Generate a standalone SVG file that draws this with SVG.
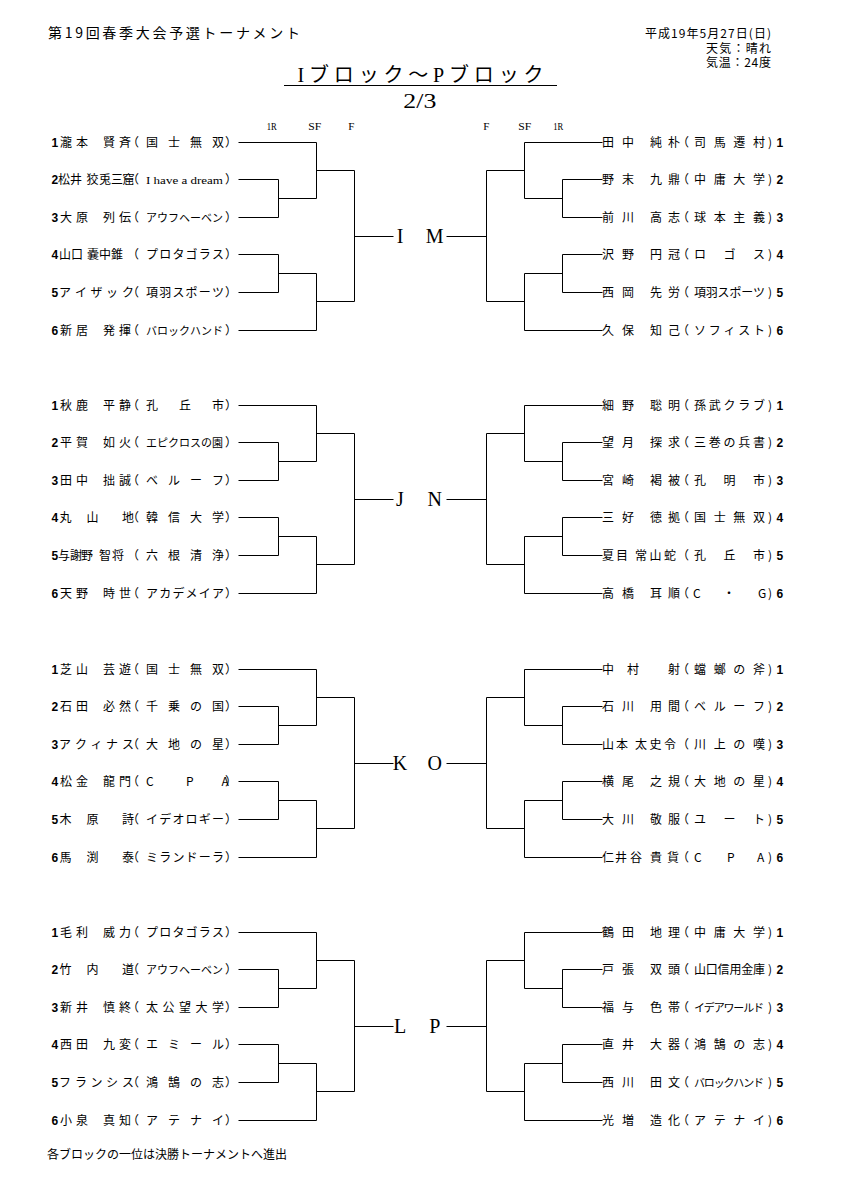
<svg xmlns="http://www.w3.org/2000/svg" width="841" height="1190" viewBox="0 0 841 1190">
<style>
.t{font-family:"Noto Sans CJK JP",sans-serif;font-size:12px;fill:#000}
.s{font-size:11px}
.d{font-family:"Liberation Sans",sans-serif;font-weight:bold;font-size:12px;fill:#000}
.sr{font-family:"Liberation Serif","Noto Sans CJK JP",serif;fill:#000}
.ln{fill:none;stroke:#000;stroke-width:1}
</style>
<defs>
<path id="bl" class="ln" d="M238.5 142.5H316.5V198.5H278.5M238.5 179.5H278.5V217.5H238.5M316.5 170.5H354.5V301.5H316.5M238.5 254.5H278.5V292.5H238.5M278.5 273.5H316.5V330.5H238.5M354.5 236.5H393.5"/>
<path id="br" class="ln" d="M602.5 142.5H524.5V198.5H562.5M602.5 179.5H562.5V217.5H602.5M524.5 170.5H486.5V301.5H524.5M602.5 254.5H562.5V292.5H602.5M562.5 273.5H524.5V330.5H602.5M486.5 236.5H446.5"/>
</defs>
<rect width="841" height="1190" fill="#fff"/>

<g id="header">
<text class="t" x="48" y="38" style="font-size:14px" textLength="252" lengthAdjust="spacing">第19回春季大会予選トーナメント</text>
<text class="t" x="645" y="38" textLength="126" lengthAdjust="spacing">平成19年5月27日(日)</text>
<text class="t" x="706" y="52.5" textLength="65" lengthAdjust="spacing">天気：晴れ</text>
<text class="t" x="706" y="67" textLength="65" lengthAdjust="spacing">気温：24度</text>
<text class="sr" x="297.5" y="81.5" style="font-size:20px" textLength="246" lengthAdjust="spacing">Iブロック〜Pブロック</text>
<line class="ln" x1="284" y1="85.5" x2="557" y2="85.5"/>
<text class="sr" x="403.3" y="108.3" style="font-size:20px" textLength="33" lengthAdjust="spacingAndGlyphs">2/3</text>
<text class="sr" x="266.7" y="130" style="font-size:11px" textLength="10" lengthAdjust="spacingAndGlyphs">1R</text>
<text class="sr" x="308.3" y="130" style="font-size:11px" textLength="13" lengthAdjust="spacingAndGlyphs">SF</text>
<text class="sr" x="348.3" y="130" style="font-size:11px">F</text>
<text class="sr" x="483.3" y="130" style="font-size:11px">F</text>
<text class="sr" x="518.3" y="130" style="font-size:11px" textLength="13" lengthAdjust="spacingAndGlyphs">SF</text>
<text class="sr" x="553.3" y="130" style="font-size:11px" textLength="10" lengthAdjust="spacingAndGlyphs">1R</text>
</g>

<g id="connectors">
<use href="#bl"/><use href="#br"/>
<use href="#bl" transform="translate(0,263)"/><use href="#br" transform="translate(0,263)"/>
<use href="#bl" transform="translate(0,527)"/><use href="#br" transform="translate(0,527)"/>
<use href="#bl" transform="translate(0,790)"/><use href="#br" transform="translate(0,790)"/>
</g>

<g id="blocks">
<g id="IM"><text class="sr" style="font-size:20px" x="400" y="243" text-anchor="middle">I</text><text class="sr" style="font-size:20px" x="434.7" y="243" text-anchor="middle">M</text></g>
<g id="JN"><text class="sr" style="font-size:20px" x="400" y="506" text-anchor="middle">J</text><text class="sr" style="font-size:20px" x="434.7" y="506" text-anchor="middle">N</text></g>
<g id="KO"><text class="sr" style="font-size:20px" x="400" y="770" text-anchor="middle">K</text><text class="sr" style="font-size:20px" x="434.7" y="770" text-anchor="middle">O</text></g>
<g id="LP"><text class="sr" style="font-size:20px" x="400" y="1033" text-anchor="middle">L</text><text class="sr" style="font-size:20px" x="434.7" y="1033" text-anchor="middle">P</text></g>
</g>

<!-- Block I -->
<g id="I1"><text class="d" x="51.5" y="147">1</text><text class="t" x="60 76 103 119 127 146 168 190 212 225" y="147">瀧本賢斉（国士無双）</text></g>
<g id="I2"><text class="d" x="51.5" y="184">2</text><text class="t" x="58 70 86.5 99 111 122.5 127" y="184">松井狡兎三窟（</text><text class="sr" x="146" y="184" style="font-size:11px" textLength="77" lengthAdjust="spacingAndGlyphs">I have a dream</text><text class="t" x="225" y="184">）</text></g>
<g id="I3"><text class="d" x="51.5" y="222">3</text><text class="t" x="60 76 103 119 127" y="222">大原列伝（<tspan class="s" x="146 157 168 179 190 201 212">アウフヘーベン</tspan><tspan x="225">）</tspan></text></g>
<g id="I4"><text class="d" x="51.5" y="259">4</text><text class="t" x="59 71 87 99 111 127 146 159.2 172.4 185.6 198.8 212 225" y="259">山口嚢中錐（プロタゴラス）</text></g>
<g id="I5"><text class="d" x="51.5" y="297">5</text><text class="t" x="59 75 90.5 106 122 127 146 159.2 172.4 185.6 198.8 212 225" y="297">アイザック（項羽スポーツ）</text></g>
<g id="I6"><text class="d" x="51.5" y="335">6</text><text class="t" x="60 76 103 119 127" y="335">新居発揮（<tspan class="s" x="146 157 168 179 190 201 212">バロックハンド</tspan><tspan x="225">）</tspan></text></g>

<!-- Block J -->
<g id="J1"><text class="d" x="51.5" y="410">1</text><text class="t" x="60 76 103 119 127 146 179 212 225" y="410">秋鹿平静（孔丘市）</text></g>
<g id="J2"><text class="d" x="51.5" y="447">2</text><text class="t" x="60 76 103 119 127" y="447">平賀如火（<tspan class="s" x="146 157 168 179 190 201 212">エピクロスの園</tspan><tspan x="225">）</tspan></text></g>
<g id="J3"><text class="d" x="51.5" y="485">3</text><text class="t" x="60 76 103 119 127 146 168 190 212 225" y="485">田中拙誠（ベルーフ）</text></g>
<g id="J4"><text class="d" x="51.5" y="522">4</text><text class="t" x="59.5 86.5 122 127 146 168 190 212 225" y="522">丸山地（韓信大学）</text></g>
<g id="J5"><text class="d" x="51.5" y="560">5</text><text class="t" x="58 70 81 99 112 127 146 168 190 212 225" y="560">与謝野智将（六根清浄）</text></g>
<g id="J6"><text class="d" x="51.5" y="598">6</text><text class="t" x="60 76 103 119 127 146 159.2 172.4 185.6 198.8 212 225" y="598">天野時世（アカデメイア）</text></g>

<!-- Block K -->
<g id="K1"><text class="d" x="51.5" y="674">1</text><text class="t" x="60 76 103 119 127 146 168 190 212 225" y="674">芝山芸遊（国士無双）</text></g>
<g id="K2"><text class="d" x="51.5" y="711">2</text><text class="t" x="60 76 103 119 127 146 168 190 212 225" y="711">石田必然（千乗の国）</text></g>
<g id="K3"><text class="d" x="51.5" y="749">3</text><text class="t" x="59 75 90.5 106 122 127 146 168 190 212 225" y="749">アクィナス（大地の星）</text></g>
<g id="K4"><text class="d" x="51.5" y="786">4</text><text class="t" x="60 76 103 119 127 146 186 221.5 225" y="786">松金龍門（CPA）</text></g>
<g id="K5"><text class="d" x="51.5" y="824">5</text><text class="t" x="59.5 86.5 122 127 146 159.2 172.4 185.6 198.8 212 225" y="824">木原詩（イデオロギー）</text></g>
<g id="K6"><text class="d" x="51.5" y="862">6</text><text class="t" x="59.5 86.5 122 127 146 159.2 172.4 185.6 198.8 212 225" y="862">馬渕泰（ミランドーラ）</text></g>

<!-- Block L -->
<g id="L1"><text class="d" x="51.5" y="937">1</text><text class="t" x="60 76 103 119 127 146 159.2 172.4 185.6 198.8 212 225" y="937">毛利威力（プロタゴラス）</text></g>
<g id="L2"><text class="d" x="51.5" y="974">2</text><text class="t" x="59.5 86.5 122 127" y="974">竹内道（<tspan class="s" x="146 157 168 179 190 201 212">アウフヘーベン</tspan><tspan x="225">）</tspan></text></g>
<g id="L3"><text class="d" x="51.5" y="1012">3</text><text class="t" x="60 76 103 119 127 146 162.5 179 195.5 212 225" y="1012">新井慎終（太公望大学）</text></g>
<g id="L4"><text class="d" x="51.5" y="1049">4</text><text class="t" x="60 76 103 119 127 146 168 190 212 225" y="1049">西田九変（エミール）</text></g>
<g id="L5"><text class="d" x="51.5" y="1087">5</text><text class="t" x="59 75 90.5 106 122 127 146 168 190 212 225" y="1087">フランシス（鴻鵠の志）</text></g>
<g id="L6"><text class="d" x="51.5" y="1125">6</text><text class="t" x="60 76 103 119 127 146 168 190 212 225" y="1125">小泉真知（アテナイ）</text></g>

<!-- Block M -->
<g id="M1"><text class="t" x="602 622 650 668 677 694 713.7 733.3 753 768" y="147">田中純朴（司馬遷村)</text><text class="d" x="776.5" y="147">1</text></g>
<g id="M2"><text class="t" x="602 622 650 668 677 694 713.7 733.3 753 768" y="184">野末九鼎（中庸大学)</text><text class="d" x="776.5" y="184">2</text></g>
<g id="M3"><text class="t" x="602 622 650 668 677 694 713.7 733.3 753 768" y="222">前川高志（球本主義)</text><text class="d" x="776.5" y="222">3</text></g>
<g id="M4"><text class="t" x="602 622 650 668 677 694 723.5 753 768" y="259">沢野円冠（ロゴス)</text><text class="d" x="776.5" y="259">4</text></g>
<g id="M5"><text class="t" x="602 622 650 668 677 694 705.8 717.6 729.4 741.2 753 768" y="297">西岡先労（項羽スポーツ)</text><text class="d" x="776.5" y="297">5</text></g>
<g id="M6"><text class="t" x="602 622 650 668 677 694 708.8 723.5 738.3 753 768" y="335">久保知己（ソフィスト)</text><text class="d" x="776.5" y="335">6</text></g>

<!-- Block N -->
<g id="N1"><text class="t" x="602 622 650 668 677 694 708.8 723.5 738.3 753 768" y="410">細野聡明（孫武クラブ)</text><text class="d" x="776.5" y="410">1</text></g>
<g id="N2"><text class="t" x="602 622 650 668 677 694 708.8 723.5 738.3 753 768" y="447">望月探求（三巻の兵書)</text><text class="d" x="776.5" y="447">2</text></g>
<g id="N3"><text class="t" x="602 622 650 668 677 694 723.5 753 768" y="485">宮崎褐被（孔明市)</text><text class="d" x="776.5" y="485">3</text></g>
<g id="N4"><text class="t" x="602 622 650 668 677 694 713.7 733.3 753 768" y="522">三好徳拠（国士無双)</text><text class="d" x="776.5" y="522">4</text></g>
<g id="N5"><text class="t" x="602 616 635 649.5 664 677 694 723.5 753 768" y="560">夏目常山蛇（孔丘市)</text><text class="d" x="776.5" y="560">5</text></g>
<g id="N6"><text class="t" x="602 622 650 668 677 693 723 758 768" y="598">高橋耳順（C・G)</text><text class="d" x="776.5" y="598">6</text></g>

<!-- Block O -->
<g id="O1"><text class="t" x="602 627 668 677 694 713.7 733.3 753 768" y="674">中村射（蟷螂の斧)</text><text class="d" x="776.5" y="674">1</text></g>
<g id="O2"><text class="t" x="602 622 650 668 677 694 713.7 733.3 753 768" y="711">石川用間（ベルーフ)</text><text class="d" x="776.5" y="711">2</text></g>
<g id="O3"><text class="t" x="602 616 635 649.5 664 677 694 713.7 733.3 753 768" y="749">山本太史令（川上の嘆)</text><text class="d" x="776.5" y="749">3</text></g>
<g id="O4"><text class="t" x="602 622 650 668 677 694 713.7 733.3 753 768" y="786">横尾之規（大地の星)</text><text class="d" x="776.5" y="786">4</text></g>
<g id="O5"><text class="t" x="602 622 650 668 677 694 723.5 753 768" y="824">大川敬服（ユート)</text><text class="d" x="776.5" y="824">5</text></g>
<g id="O6"><text class="t" x="602 615 630 650 667 677 694 727 757 768" y="862">仁井谷貴貨（CPA)</text><text class="d" x="776.5" y="862">6</text></g>

<!-- Block P -->
<g id="P1"><text class="t" x="602 622 650 668 677 694 713.7 733.3 753 768" y="937">鶴田地理（中庸大学)</text><text class="d" x="776.5" y="937">1</text></g>
<g id="P2"><text class="t" x="602 622 650 668 677 694 705.8 717.6 729.4 741.2 753 768" y="974">戸張双頭（山口信用金庫)</text><text class="d" x="776.5" y="974">2</text></g>
<g id="P3"><text class="t" x="602 622 650 668 677" y="1012">福与色帯（<tspan class="s" x="694 703.8 713.7 723.5 733.3 743.2 753">イデアワールド</tspan><tspan x="768">)</tspan></text><text class="d" x="776.5" y="1012">3</text></g>
<g id="P4"><text class="t" x="602 622 650 668 677 694 713.7 733.3 753 768" y="1049">直井大器（鴻鵠の志)</text><text class="d" x="776.5" y="1049">4</text></g>
<g id="P5"><text class="t" x="602 622 650 668 677" y="1087">西川田文（<tspan class="s" x="694 703.8 713.7 723.5 733.3 743.2 753">バロックハンド</tspan><tspan x="768">)</tspan></text><text class="d" x="776.5" y="1087">5</text></g>
<g id="P6"><text class="t" x="602 622 650 668 677 694 713.7 733.3 753 768" y="1125">光増造化（アテナイ)</text><text class="d" x="776.5" y="1125">6</text></g>

<g id="footer"><text class="t" x="47" y="1159">各ブロックの一位は決勝トーナメントへ進出</text></g>
</svg>
